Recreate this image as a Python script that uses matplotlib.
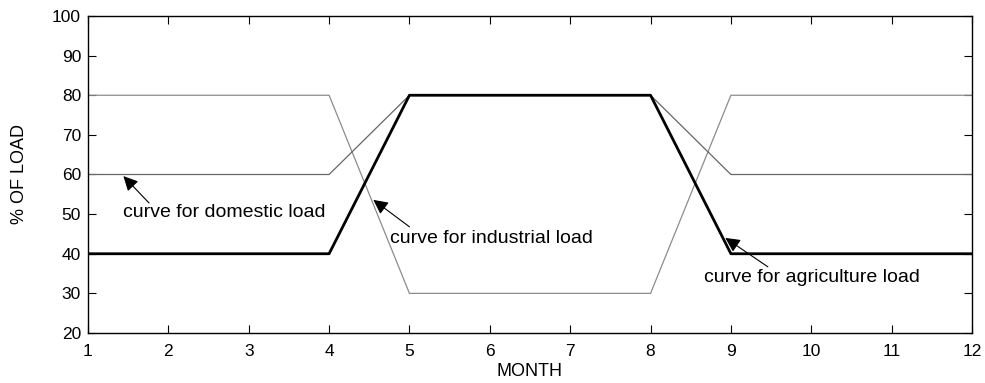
import matplotlib.pyplot as plt
import numpy as np

plt.rcParams['font.family'] = ['Liberation Sans', 'DejaVu Sans']

month = [1, 2, 3, 4, 5, 6, 7, 8, 9, 10, 11, 12]
domestic = [60, 60, 60, 60, 80, 80, 80, 80, 60, 60, 60, 60]
industrial = [40, 40, 40, 40, 80, 80, 80, 80, 40, 40, 40, 40]
agriculture = [80, 80, 80, 80, 30, 30, 30, 30, 80, 80, 80, 80]

fig = plt.figure(figsize=(9.85, 3.83), dpi=100)
ax = fig.add_axes([88 / 985, 1 - 333 / 383, (972 - 88) / 985, (333 - 16) / 383])

ax.plot(month, agriculture, color='#8c8c8c', lw=0.9)
ax.plot(month, domestic, color='#666666', lw=0.9)
ax.plot(month, industrial, color='black', lw=2.0)

ax.set_xlim(1, 12)
ax.set_ylim(20, 100)
ax.set_xticks(np.arange(1, 13))
ax.set_yticks(np.arange(20, 101, 10))
ax.tick_params(direction='in', top=True, right=True, length=6, width=0.8,
               labelsize=12.5, pad=5)
ax.tick_params(axis='x', pad=8)
for s in ax.spines.values():
    s.set_linewidth(1.0)

ax.set_xlabel('MONTH', fontsize=13, labelpad=3)
ax.set_ylabel('% OF LOAD', fontsize=13, labelpad=17)

arrow = dict(arrowstyle='-|>', color='black', lw=0.8, mutation_scale=22,
             shrinkA=0, shrinkB=0)
ax.annotate('', xy=(1.44, 59.6), xytext=(1.76, 52.8), arrowprops=arrow)
ax.text(1.44, 50.3, 'curve for domestic load', fontsize=14, va='center')
ax.annotate('', xy=(4.55, 53.6), xytext=(5.0, 46.8), arrowprops=arrow)
ax.text(4.76, 43.8, 'curve for industrial load', fontsize=14, va='center')
ax.annotate('', xy=(8.93, 44.0), xytext=(9.46, 36.7), arrowprops=arrow)
ax.text(8.66, 33.9, 'curve for agriculture load', fontsize=14, va='center')

fig.savefig('out.png', dpi=100)
